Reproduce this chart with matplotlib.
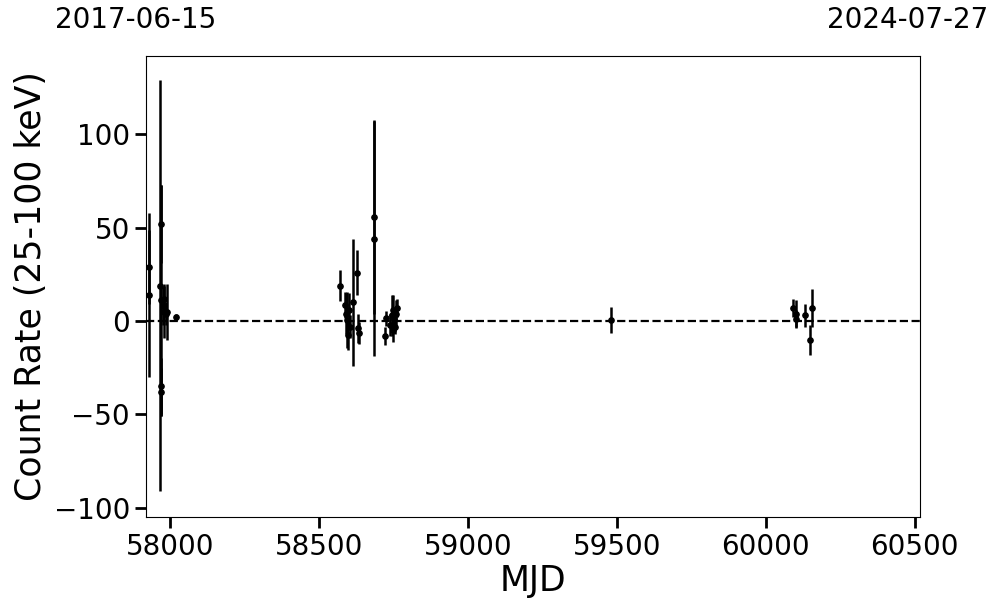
import numpy as np
import matplotlib.pyplot as plt

plt.rcParams.update({'font.size': 20})

OUTPUT_IMG = "out.png"

# light curve values (MJD, rate, 1-sigma error)
mjd = [57929, 57930, 57967, 57968, 57969, 57968, 57970, 57975, 57978, 57980,
       57985, 57990, 58020,
       58570, 58587, 58590, 58594, 58598, 58602, 58604, 58614, 58627, 58631,
       58633, 58685, 58686, 58721, 58724, 58740, 58745, 58748, 58750, 58752,
       58755, 58758, 58762,
       59480,
       60091, 60100, 60102, 60131, 60148, 60154]
rate = [14, 29, 19, 52, -35, -38, 11, 8, 12, 5,
        4, 5, 2,
        19, 8.5, 4, 0.5, -7.5, 6, -3, 10, 26, -4,
        -6.5, 55.5, 44, -8, 1.5, -2, 3, -5, 6, 1,
        -3, 4, 7,
        0.5,
        7, 4, 1, 3, -10, 7]
err = [44, 20, 110, 21, 15, 13, 62, 10, 8, 14,
       6, 15, 2,
       8.5, 7, 11, 15, 8, 9, 6, 34, 12, 8,
       6, 52, 63, 5, 4, 6, 11, 6, 8, 5,
       4, 7, 5,
       7,
       5, 7, 5, 6, 8, 10]

x_min, x_max = 57919, 60518
date_lo, date_hi = "2017-06-15", "2024-07-27"


def make_plot():
    fig = plt.figure(figsize=(9.97, 6.13), dpi=100)
    ax = fig.add_axes([146 / 997, 1 - 517 / 613, 774 / 997, 461 / 613])

    ax.errorbar(mjd, rate, yerr=err, fmt='o', color='black', ms=3.8,
                elinewidth=1.8, capsize=0)
    ax.axhline(0, color='black', linestyle='--', linewidth=1.6)

    ax.set_xlim(x_min, x_max)
    ax.set_ylim(-105, 142)
    ax.set_xticks([58000, 58500, 59000, 59500, 60000, 60500])
    ax.set_yticks([-100, -50, 0, 50, 100])
    ax.tick_params(axis='both', which='major', labelsize=20, length=8, width=2)

    ax.set_xlabel('MJD', fontsize=25, labelpad=2)
    ax.set_ylabel('Count Rate (25-100 keV)', fontsize=25, labelpad=4)

    ax.text(-0.014, 1.048, date_lo, transform=ax.transAxes, ha='center',
            va='bottom', fontsize=20)
    ax.text(0.984, 1.048, date_hi, transform=ax.transAxes, ha='center',
            va='bottom', fontsize=20)

    fig.savefig(OUTPUT_IMG, dpi=100)


if __name__ == "__main__":
    make_plot()
